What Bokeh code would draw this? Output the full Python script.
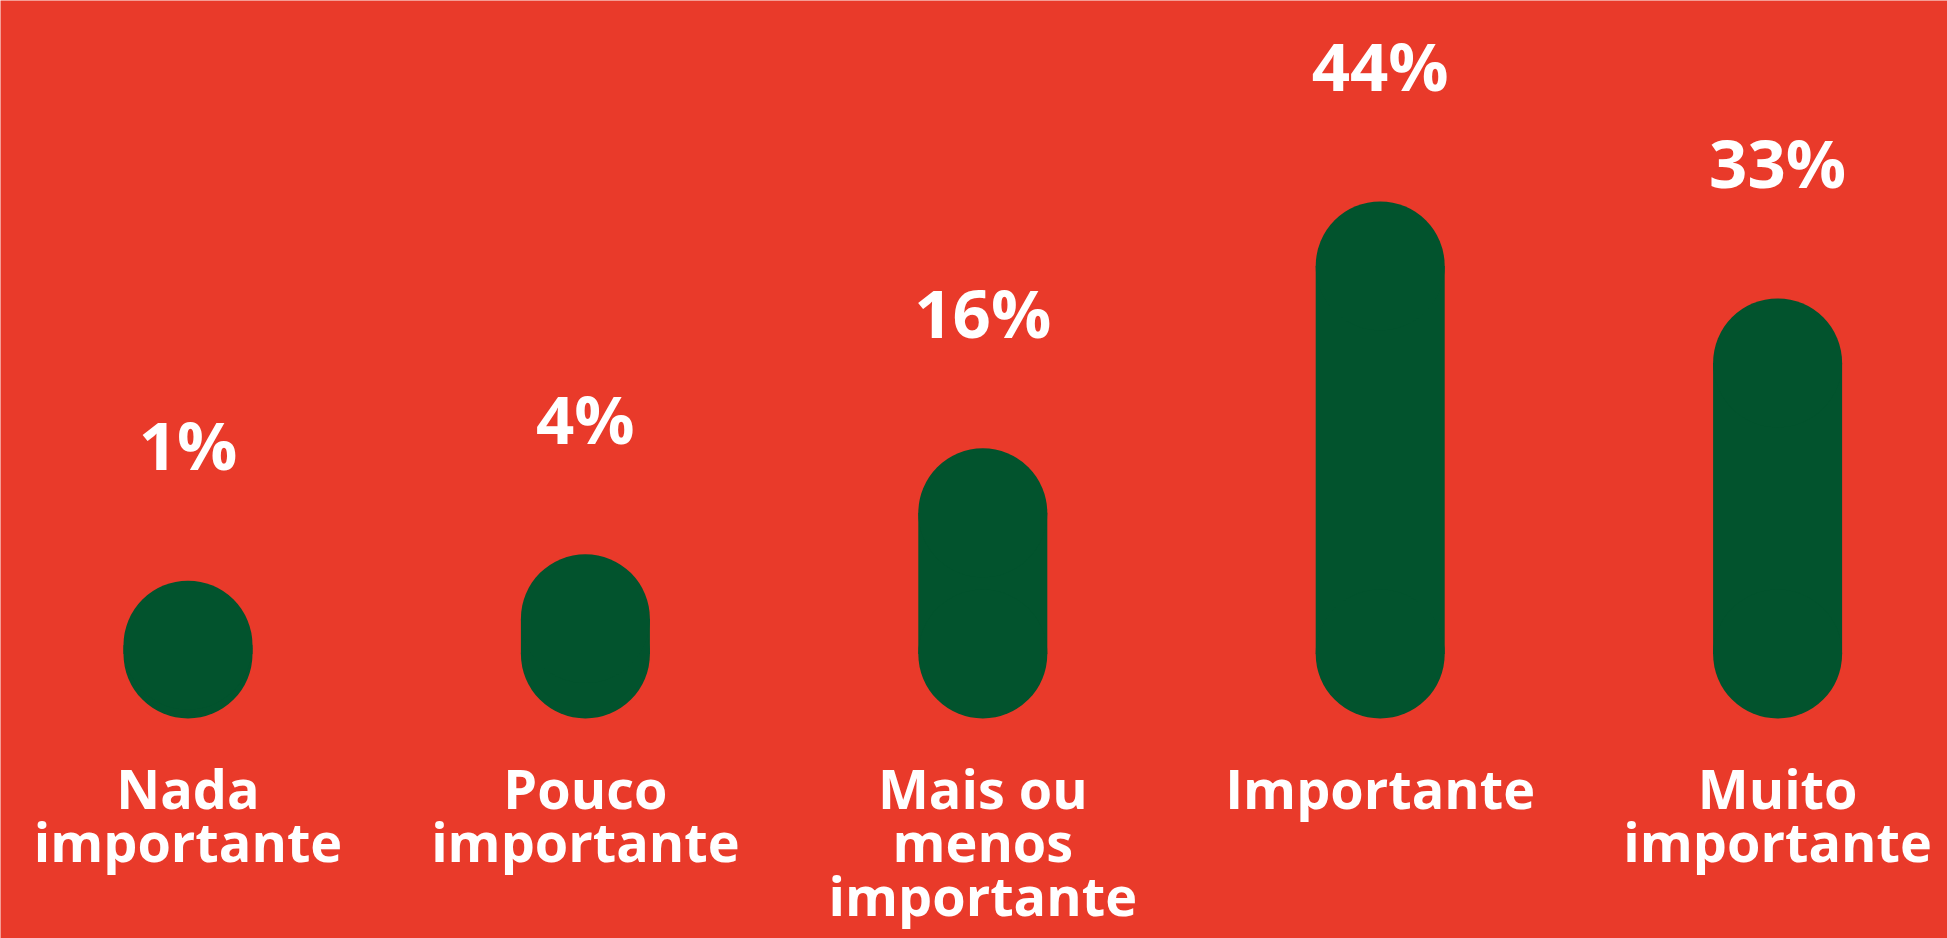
from bokeh.plotting import figure
from bokeh.models import Range1d, ColumnDataSource
from bokeh.core.properties import value
from bokeh.embed import file_html
from bokeh.resources import INLINE

# ---- data ----
categories = ["Nada\nimportante", "Pouco\nimportante", "Mais ou\nmenos\nimportante",
              "Importante", "Muito\nimportante"]
values = [1, 4, 16, 44, 33]
value_labels = ["1%", "4%", "16%", "44%", "33%"]

BG = "#E93A2A"
GREEN = "#02532D"
W, H = 1947, 938

xs = list(range(len(categories)))
src = ColumnDataSource(dict(x=xs, top=values, base=[0] * len(values),
                            lab=value_labels, cat=categories))

p = figure(width=W, height=H, output_backend="svg", toolbar_location=None,
           x_range=Range1d(-0.4718, 4.4275), y_range=Range1d(-32.26, 74.09),
           min_border=0, background_fill_color=BG, border_fill_color=BG)
p.axis.visible = False
p.grid.visible = False
p.outline_line_color = None

bar_w = 0.3246
p.vbar(x="x", bottom="base", top="top", width=bar_w, source=src,
       fill_color=GREEN, line_color=None)
p.circle(x="x", y="base", radius=bar_w / 2, source=src, fill_color=GREEN, line_color=None)
p.circle(x="x", y="top", radius=bar_w / 2, source=src, fill_color=GREEN, line_color=None)

p.text(x="x", y="top", text="lab", source=src, y_offset=-201,
       text_align="center", text_baseline="alphabetic",
       text_font=value("Open Sans"), text_font_style="bold",
       text_font_size="67px", text_color="white")

p.text(x="x", y="base", text="cat", source=src, y_offset=97,
       text_align="center", text_baseline="top", text_line_height=0.72,
       text_font=value("Open Sans"), text_font_style="bold",
       text_font_size="54px", text_color="white")

html = file_html(p, INLINE)
html = html.replace("<body>", '<body style="background:%s;">' % BG, 1)
open("out.html", "w").write(html)
